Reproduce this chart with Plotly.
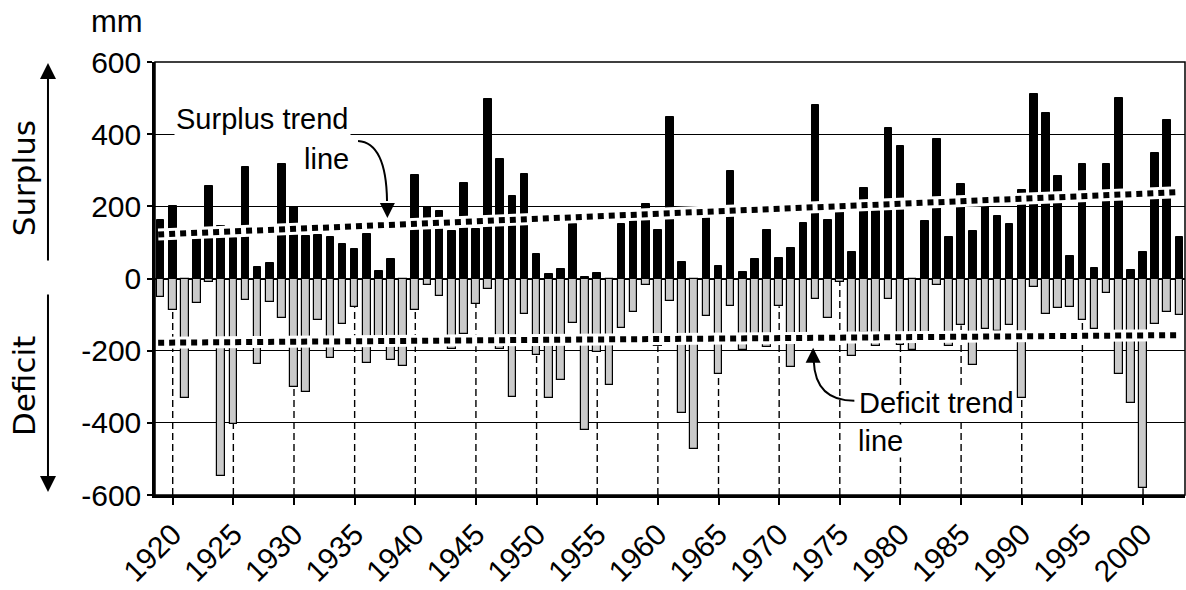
import plotly.graph_objects as go

years = list(range(1919, 2004))
surplus = [163, 200, 0, 110, 257, 145, 112, 308, 32, 43,
           318, 197, 118, 121, 115, 97, 81, 123, 21, 54,
           0, 287, 199, 186, 132, 266, 137, 498, 331, 230,
           290, 68, 12, 26, 151, 5, 15, 0, 151, 158,
           206, 134, 447, 46, 0, 167, 35, 299, 17, 55,
           134, 56, 84, 153, 482, 163, 183, 74, 250, 188,
           417, 367, 0, 158, 388, 114, 262, 131, 202, 174,
           151, 245, 510, 459, 283, 61, 318, 29, 318, 501,
           24, 74, 348, 438, 114]
deficit = [-50, -88, -330, -68, -11, -548, -403, -60, -236, -64,
           -110, -301, -314, -115, -219, -127, -80, -233, -170, -226,
           -242, -86, -18, -48, -195, -154, -71, -30, -196, -328,
           -97, -212, -332, -281, -124, -421, -203, -296, -138, -93,
           -18, -188, -61, -374, -472, -105, -264, -77, -199, -167,
           -190, -77, -245, -157, -56, -110, -9, -215, -150, -188,
           -57, -184, -198, -150, -18, -187, -130, -241, -139, -145,
           -129, -332, -23, -99, -83, -79, -115, -141, -41, -266,
           -344, -581, -125, -94, -101]

trend_years = [1918.8, 2002.8]
surplus_trend = [122, 239]
deficit_trend = [-178, -157]

x_ticks = list(range(1920, 2001, 5))
y_ticks = [-600, -400, -200, 0, 200, 400, 600]
y_min, y_max = -600, 600

SANS = "Liberation Sans, Arial, Helvetica, sans-serif"
WIDE = "DejaVu Sans, Liberation Sans, sans-serif"

fig = go.Figure()

# vertical dashed guide lines at tick years, from axis bottom to deficit bar
for yr in x_ticks:
    d = deficit[years.index(yr)]
    fig.add_trace(go.Scatter(x=[yr, yr], y=[y_min, d], mode="lines",
                             line=dict(color="black", width=1.4, dash="7px,4px"),
                             showlegend=False, hoverinfo="skip"))

fig.add_trace(go.Bar(x=years, y=surplus, width=0.63,
                     marker=dict(color="black", line=dict(color="black", width=1)),
                     showlegend=False))
fig.add_trace(go.Bar(x=years, y=deficit, width=0.63,
                     marker=dict(color="#cacaca", line=dict(color="black", width=1.2)),
                     showlegend=False))

for tr in (surplus_trend, deficit_trend):
    fig.add_trace(go.Scatter(x=trend_years, y=tr, mode="lines",
                             line=dict(color="white", width=12),
                             showlegend=False, hoverinfo="skip"))
    fig.add_trace(go.Scatter(x=trend_years, y=tr, mode="lines",
                             line=dict(color="black", width=6, dash="6px,5px"),
                             showlegend=False, hoverinfo="skip"))

annotations = [
    dict(text="mm", x=-0.0097, y=1.093, xref="paper", yref="paper",
         xanchor="right", yanchor="middle", showarrow=False,
         font=dict(family=SANS, size=31, color="black")),
    dict(text="Surplus", x=-0.127, y=0.732, xref="paper", yref="paper",
         xanchor="center", yanchor="middle", textangle=-90, showarrow=False,
         font=dict(family=WIDE, size=31, color="black")),
    dict(text="Deficit", x=-0.127, y=0.252, xref="paper", yref="paper",
         xanchor="center", yanchor="middle", textangle=-90, showarrow=False,
         font=dict(family=WIDE, size=31, color="black")),
    dict(text="", x=-0.1039, y=0.9977, xref="paper", yref="paper",
         showarrow=True, ax=0, ay=199, arrowhead=2, arrowsize=1.6,
         arrowwidth=2, arrowcolor="black"),
    dict(text="", x=-0.1039, y=0.0069, xref="paper", yref="paper",
         showarrow=True, ax=0, ay=-199, arrowhead=2, arrowsize=1.6,
         arrowwidth=2, arrowcolor="black"),
    dict(text="Surplus trend", x=1934.7, y=442, xanchor="right", yanchor="middle",
         showarrow=False, bgcolor="white", borderpad=1,
         font=dict(family=SANS, size=29, color="black")),
    dict(text="line", x=1934.7, y=331, xanchor="right", yanchor="middle",
         showarrow=False, font=dict(family=SANS, size=29, color="black")),
    dict(text="Deficit trend", x=1976.4, y=-345, xanchor="left", yanchor="middle",
         showarrow=False, bgcolor="white", borderpad=1,
         font=dict(family=SANS, size=29, color="black")),
    dict(text="line", x=1976.4, y=-450, xanchor="left", yanchor="middle",
         showarrow=False, bgcolor="white", borderpad=0,
         font=dict(family=SANS, size=29, color="black")),
    # arrowheads of curved callouts
    dict(text="", x=1937.7, y=168, showarrow=True, ax=0, ay=-16, arrowhead=2,
         arrowsize=1.5, arrowwidth=2, arrowcolor="black"),
    dict(text="", x=1972.8, y=-192, showarrow=True, ax=0, ay=16, arrowhead=2,
         arrowsize=1.5, arrowwidth=2, arrowcolor="black"),
]

shapes = [
    dict(type="rect", xref="paper", yref="paper", x0=0, x1=1, y0=0, y1=1,
         line=dict(color="black", width=1.5), layer="above"),
    dict(type="path", path="M 1935.28,381 Q 1937.6,376 1937.67,215",
         line=dict(color="black", width=2), layer="above"),
    dict(type="path", path="M 1976.2,-339 Q 1972.97,-339 1972.85,-228",
         line=dict(color="black", width=2), layer="above"),
]

fig.update_layout(
    width=1186, height=590,
    margin=dict(l=155, r=1, t=62, b=95, autoexpand=False),
    paper_bgcolor="white", plot_bgcolor="white",
    barmode="overlay", bargap=0,
    annotations=annotations, shapes=shapes,
    font=dict(family=SANS, color="black"),
)
fig.update_xaxes(range=[1918.54, 2003.46], tickvals=x_ticks, automargin=False,
                 ticktext=[str(t) for t in x_ticks], tickangle=-45,
                 ticks="outside", ticklen=7, tickwidth=1.5, tickcolor="black",
                 showline=True, linecolor="black", linewidth=2.5,
                 showgrid=False, zeroline=False,
                 tickfont=dict(family=SANS, size=30, color="black"))
fig.update_yaxes(range=[y_min, y_max], tickvals=y_ticks, automargin=False,
                 ticktext=[str(t) for t in y_ticks],
                 ticks="outside", ticklen=5, tickwidth=1.5, tickcolor="black",
                 showline=True, linecolor="black", linewidth=2.5,
                 showgrid=True, gridcolor="black", gridwidth=1.3,
                 zeroline=True, zerolinecolor="black", zerolinewidth=1.5,
                 tickfont=dict(family=SANS, size=30, color="black"))

fig.write_html("out.html", config={"displayModeBar": False},
               post_script="document.body.style.margin='0';document.body.style.overflow='hidden';")
